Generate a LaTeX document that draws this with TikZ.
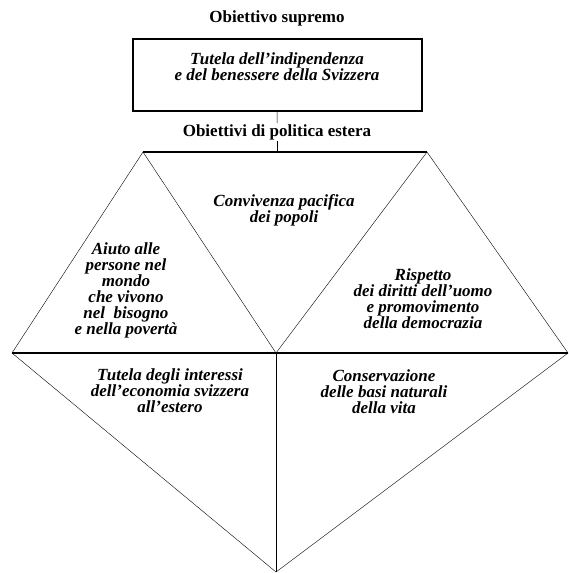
\documentclass[tikz,border=0pt]{standalone}
\usepackage{fontspec}
\setmainfont{Liberation Serif}
\usetikzlibrary{positioning}
\tikzset{x=1pt,y=-1pt,line width=1.1pt,
  title/.style={font=\fontsize{17}{16}\selectfont\bfseries,inner sep=1pt},
  goal/.style={font=\fontsize{17}{16}\selectfont\bfseries\itshape,align=center,inner sep=0pt},
  box/.style={draw,line width=1.5pt,minimum width=289pt,minimum height=72pt},
  base/.style={line width=1.6pt}}
\begin{document}
\begin{tikzpicture}
    \useasboundingbox (0,0) rectangle (569,573);
    % corners of the triangles
    \coordinate (a) at (143,152);
    \coordinate (b) at (427,152);
    \coordinate (c) at (12,353);
    \coordinate (d) at (276,353);
    \coordinate (e) at (568,353);
    \coordinate (f) at (276,572);
    \coordinate (t) at (277,152);

    \node[title] (0) at (277,18) {Obiettivo supremo};
    \node[box] (1) at (277.5,75) {};
    \node[goal] (1t) at (277,67) {Tutela dell'indipendenza\\e del benessere della Svizzera};
    \node[title] (2) at (277,132) {Obiettivi di politica estera};
    \draw (1) -- (2);
    \draw (2) -- (t);

    \draw[base] (a) -- (b);
    \draw[base] (c) -- (e);
    \draw (c) -- (a) -- (d) -- (b) -- (e) -- (f) -- cycle;
    \draw (d) -- (f);

    \node[goal] (3) at (284,210) {Convivenza pacifica\\dei popoli};
    \node[goal] (4) at (126,290) {Aiuto alle\\persone nel\\mondo\\che vivono\\nel\ \ bisogno\\e nella povertà};
    \node[goal] (5) at (423,299) {Rispetto\\dei diritti dell'uomo\\e promovimento\\della democrazia};
    \node[goal] (6) at (170,391) {Tutela degli interessi\\dell'economia svizzera\\all'estero};
    \node[goal] (7) at (384,392) {Conservazione\\delle basi naturali\\della vita};
\end{tikzpicture}
\end{document}
